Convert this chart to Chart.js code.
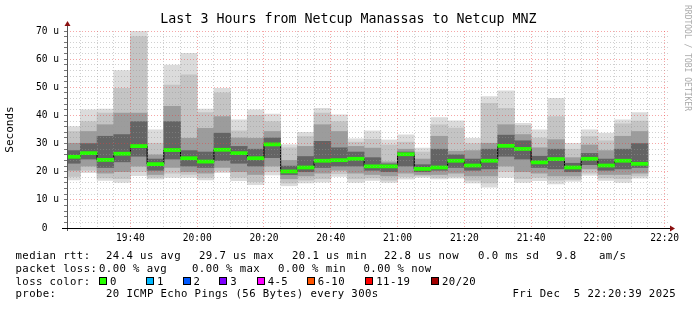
<!DOCTYPE html>
<html>
<head>
<meta charset="utf-8">
<script src="https://cdn.jsdelivr.net/npm/chart.js@4.4.1/dist/chart.umd.min.js"></script>
<style>
body { margin: 0; background: #fff; }
#wrap { position: relative; width: 697px; height: 310px; font-family: "DejaVu Sans Mono", monospace; color: #000; overflow: hidden; }
#myChart { position: absolute; left: 0; top: 0; }
.t { position: absolute; white-space: pre; font-size: 10.67px; letter-spacing: 0.4px; line-height: 12px; }
.box { position: absolute; width: 6px; height: 6px; border: 1px solid #000; }
#title { position: absolute; left: 0; top: 11px; width: 697px; text-align: center; font-size: 13.3px; line-height: 16px; white-space: pre; }
#mark { position: absolute; left: 691px; top: 5px; font-size: 8px; line-height: 8px; color: #aaa; white-space: pre; transform: rotate(90deg); transform-origin: 0 0; }
</style>
</head>
<body>
<div id="wrap">
<canvas id="myChart" width="697" height="310"></canvas>
<div id="title">Last 3 Hours from Netcup Manassas to Netcup MNZ</div>
<div id="mark">RRDTOOL / TOBI OETIKER</div>
</div>
<script>
// 5 minute steps, start time of each step
const barStart = ["19:20", "19:25", "19:30", "19:35", "19:40", "19:45", "19:50", "19:55",
    "20:00", "20:05", "20:10", "20:15", "20:20", "20:25", "20:30", "20:35",
    "20:40", "20:45", "20:50", "20:55", "21:00", "21:05", "21:10", "21:15",
    "21:20", "21:25", "21:30", "21:35", "21:40", "21:45", "21:50", "21:55",
    "22:00", "22:05", "22:10"];
const xStart = "19:21";
const xEnd = "22:21";

// median rtt per step (us)
const medianRtt = [25.3, 26.6, 24.2, 26.4, 29.1, 22.7, 27.7, 24.8, 23.6, 27.8, 26.6, 24.8, 29.7, 20.1, 21.5, 23.9, 24.1, 24.6,
    21.9, 21.9, 26.2, 21.0, 21.5, 23.9, 22.2, 23.9, 29.2, 28.1, 23.3, 24.5, 21.5, 24.6, 22.2, 23.9, 22.8];

// smoke: ping spread, outer to inner
const pingMax = [36.0, 42.0, 42.3, 55.9, 70.1, 34.9, 57.9, 62.1, 42.3, 49.6, 38.4, 42.0, 40.5, 29.6, 34.0, 42.5, 40.2, 31.7,
    34.5, 31.3, 33.1, 28.4, 39.2, 38.1, 31.9, 46.7, 48.7, 37.2, 34.9, 46.1, 30.1, 34.9, 33.7, 38.4, 41.0];
const pingHi2 = [34.3, 37.8, 40.8, 49.6, 68.0, 30.1, 50.8, 54.4, 41.0, 48.0, 34.5, 40.0, 37.8, 28.5, 32.5, 40.8, 37.8, 30.5,
    31.5, 29.5, 30.5, 27.0, 36.7, 35.5, 30.0, 44.3, 42.5, 36.5, 32.0, 39.6, 28.0, 32.5, 31.0, 37.0, 38.0];
const pingHi3 = [30.1, 34.3, 36.7, 40.8, 40.8, 26.0, 43.2, 31.9, 35.4, 39.6, 32.0, 31.9, 34.3, 24.0, 29.0, 36.7, 34.3, 29.0,
    28.4, 23.5, 28.0, 24.5, 32.6, 27.3, 27.5, 30.1, 36.7, 33.2, 28.5, 31.4, 25.0, 29.5, 27.5, 32.6, 34.3];
const pingHi4 = [27.5, 30.0, 32.6, 33.2, 37.8, 24.5, 37.8, 27.5, 27.0, 33.7, 29.0, 28.0, 32.0, 22.0, 25.4, 30.8, 28.5, 27.0,
    25.0, 22.8, 27.0, 22.5, 28.0, 26.0, 24.5, 28.0, 33.0, 31.0, 25.5, 28.0, 23.0, 26.5, 24.5, 28.0, 30.0];
const pingLo4 = [23.0, 24.5, 21.5, 23.5, 25.5, 20.5, 24.5, 22.0, 21.5, 24.0, 23.0, 22.0, 25.0, 19.0, 20.0, 21.5, 22.0, 22.0,
    20.5, 20.0, 22.0, 20.0, 20.5, 21.5, 20.5, 21.0, 25.5, 24.5, 21.5, 21.0, 20.0, 22.5, 20.5, 21.0, 21.5];
const pingLo3 = [20.5, 22.0, 19.5, 20.0, 22.0, 19.0, 21.5, 20.0, 19.5, 21.5, 20.0, 19.0, 22.0, 17.5, 18.5, 19.5, 20.5, 19.5,
    19.0, 18.5, 19.5, 19.0, 19.0, 19.5, 18.5, 18.5, 22.0, 20.0, 19.5, 18.5, 18.5, 21.0, 19.0, 19.0, 19.5];
const pingLo2 = [18.3, 20.5, 17.8, 17.5, 20.0, 18.0, 19.5, 19.0, 18.0, 20.3, 18.0, 16.5, 20.0, 16.0, 17.0, 17.5, 19.3, 17.5,
    17.8, 17.0, 18.2, 18.5, 18.0, 18.3, 17.0, 16.0, 20.0, 17.5, 18.0, 17.0, 17.3, 19.5, 17.8, 17.5, 18.5];
const pingMin = [17.1, 19.7, 16.9, 16.2, 18.6, 17.4, 18.0, 18.0, 17.1, 19.7, 16.8, 15.4, 18.9, 15.0, 16.0, 16.3, 18.3, 16.2,
    16.9, 16.2, 17.4, 18.0, 17.4, 17.7, 16.0, 14.5, 18.0, 16.2, 16.8, 15.7, 16.6, 18.7, 16.9, 16.2, 17.7];

const lossLabels = ["0", "1", "2", "3", "4-5", "6-10", "11-19", "20/20"];
const lossColors = ["#26ff00", "#00b8ff", "#0059ff", "#7e00ff", "#ff00ff", "#ff5500", "#ff0000", "#a10000"];

const legendLines = [
    ["median rtt:", "24.4 us avg", "29.7 us max", "20.1 us min", "22.8 us now", "0.0 ms sd", "9.8", "am/s"],
    ["packet loss:", "0.00 % avg", "0.00 % max", "0.00 % min", "0.00 % now"],
    ["loss color:"],
    ["probe:", "20 ICMP Echo Pings (56 Bytes) every 300s", "Fri Dec  5 22:20:39 2025"]
];
// layout of the legend block
const legendX = [
    [15.5, 106, 199, 292, 384, 478, 556, 599],
    [15.5, 99, 192, 278, 363.5],
    [15.5],
    [15.5, 106, 512.5]
];
const legendY = [250, 262.5, 275.5, 288];
const lossBoxX = [99, 146, 182.5, 219.3, 256.7, 306.7, 365.3, 431];

const wrap = document.getElementById("wrap");
legendLines.forEach((line, r) => {
    line.forEach((txt, c) => {
        const d = document.createElement("div");
        d.className = "t";
        d.style.left = legendX[r][c] + "px";
        d.style.top = legendY[r] + "px";
        d.textContent = txt;
        wrap.appendChild(d);
    });
});
lossLabels.forEach((lab, i) => {
    const b = document.createElement("div");
    b.className = "box";
    b.style.left = lossBoxX[i] + "px";
    b.style.top = "277px";
    b.style.background = lossColors[i];
    wrap.appendChild(b);
    const d = document.createElement("div");
    d.className = "t";
    d.style.left = (lossBoxX[i] + 11) + "px";
    d.style.top = legendY[2] + "px";
    d.textContent = lab;
    wrap.appendChild(d);
});

const toMin = s => { const p = s.split(":").map(Number); return p[0] * 60 + p[1]; };
const fmt = v => String(Math.floor(v / 60)).padStart(2, "0") + ":" + String(v % 60).padStart(2, "0");
const starts = barStart.map(toMin);
const centers = starts.map(v => v + 2.5);
const band = (lo, hi) => centers.map((x, i) => ({ x: x, y: [lo[i], hi[i]] }));
const stepData = starts.map((x, i) => ({ x: x, y: medianRtt[i] }));
stepData.push({ x: starts[starts.length - 1] + 5, y: medianRtt[medianRtt.length - 1] });

const monoFont = "'DejaVu Sans Mono', monospace";
const majorGrid = "rgba(235, 60, 60, 0.45)";
const minorGrid = "rgba(150, 150, 150, 0.45)";

const axisArrows = {
    id: "axisArrows",
    afterDraw(chart) {
        const { ctx, chartArea: a } = chart;
        ctx.save();
        ctx.lineWidth = 1;
        ctx.strokeStyle = "#555";
        ctx.beginPath();
        ctx.moveTo(a.left + 0.5, a.bottom + 3);
        ctx.lineTo(a.left + 0.5, a.top - 6);
        ctx.stroke();
        ctx.strokeStyle = "#000";
        ctx.beginPath();
        ctx.moveTo(a.left - 5, a.bottom + 0.5);
        ctx.lineTo(a.right + 2, a.bottom + 0.5);
        ctx.stroke();
        ctx.fillStyle = "#8b1010";
        ctx.beginPath();
        ctx.moveTo(a.left - 2.5, a.top - 5);
        ctx.lineTo(a.left + 3.5, a.top - 5);
        ctx.lineTo(a.left + 0.5, a.top - 10);
        ctx.fill();
        ctx.beginPath();
        ctx.moveTo(a.right + 2, a.bottom - 2.5);
        ctx.lineTo(a.right + 2, a.bottom + 3.5);
        ctx.lineTo(a.right + 7, a.bottom + 0.5);
        ctx.fill();
        ctx.restore();
    }
};

const ctx = document.getElementById("myChart").getContext("2d");
new Chart(ctx, {
    type: "bar",
    data: {
        datasets: [{
            label: "median",
            data: centers.map((x, i) => ({ x: x, y: [medianRtt[i] - 0.55, medianRtt[i] + 0.55] })),
            backgroundColor: lossColors[0],
            order: 0
        }, {
            type: "line",
            label: "median step",
            data: stepData,
            stepped: true,
            borderColor: "#000",
            borderWidth: 1,
            pointRadius: 0,
            clip: 0,
            order: 1
        }, {
            label: "smoke 4",
            data: band(pingLo4, pingHi4),
            backgroundColor: "#646464",
            order: 2
        }, {
            label: "smoke 3",
            data: band(pingLo3, pingHi3),
            backgroundColor: "#9c9c9c",
            order: 3
        }, {
            label: "smoke 2",
            data: band(pingLo2, pingHi2),
            backgroundColor: "#c4c4c4",
            order: 4
        }, {
            label: "smoke 1",
            data: band(pingMin, pingMax),
            backgroundColor: "#dbdbdb",
            order: 5
        }]
    },
    options: {
        responsive: false,
        animation: false,
        events: [],
        layout: { padding: { top: 31, right: 29, left: 0, bottom: 0 } },
        plugins: {
            legend: { display: false },
            tooltip: { enabled: false },
            title: { display: false }
        },
        datasets: {
            bar: { grouped: false, barPercentage: 1, categoryPercentage: 1, borderWidth: 0, clip: 0 }
        },
        scales: {
            x: {
                type: "linear",
                offset: false,
                min: toMin(xStart),
                max: toMin(xEnd),
                afterFit: s => { s.height = 82; },
                afterBuildTicks: s => {
                    const t = [];
                    for (let v = Math.ceil(s.min / 5) * 5; v <= s.max; v += 5) t.push({ value: v });
                    s.ticks = t;
                },
                grid: {
                    z: 1,
                    offset: false,
                    drawTicks: false,
                    lineWidth: 1,
                    color: c => (c.tick && c.tick.value % 20 === 0) ? majorGrid : minorGrid
                },
                border: { display: false, dash: [1, 2] },
                ticks: {
                    autoSkip: false,
                    maxRotation: 0,
                    padding: 5,
                    color: "#000",
                    font: { family: monoFont, size: 9.6 },
                    callback: v => v % 20 === 0 ? fmt(v) : ""
                }
            },
            y: {
                min: 0,
                max: 70,
                afterFit: s => { s.width = 67; },
                grid: {
                    z: 1,
                    drawTicks: true,
                    tickLength: 3,
                    tickColor: "#777",
                    lineWidth: 1,
                    color: c => (c.tick && c.tick.value % 10 === 0) ? majorGrid : minorGrid
                },
                border: { display: false, dash: [1, 2] },
                title: {
                    display: true,
                    text: "Seconds",
                    color: "#000",
                    font: { family: monoFont, size: 11 },
                    padding: { top: 4, bottom: 0 }
                },
                ticks: {
                    stepSize: 2,
                    autoSkip: false,
                    padding: 5,
                    color: "#000",
                    font: { family: monoFont, size: 9.6 },
                    callback: v => v % 10 === 0 ? (v === 0 ? "0  " : v + " u") : ""
                }
            }
        }
    },
    plugins: [axisArrows]
});
</script>
</body>
</html>
